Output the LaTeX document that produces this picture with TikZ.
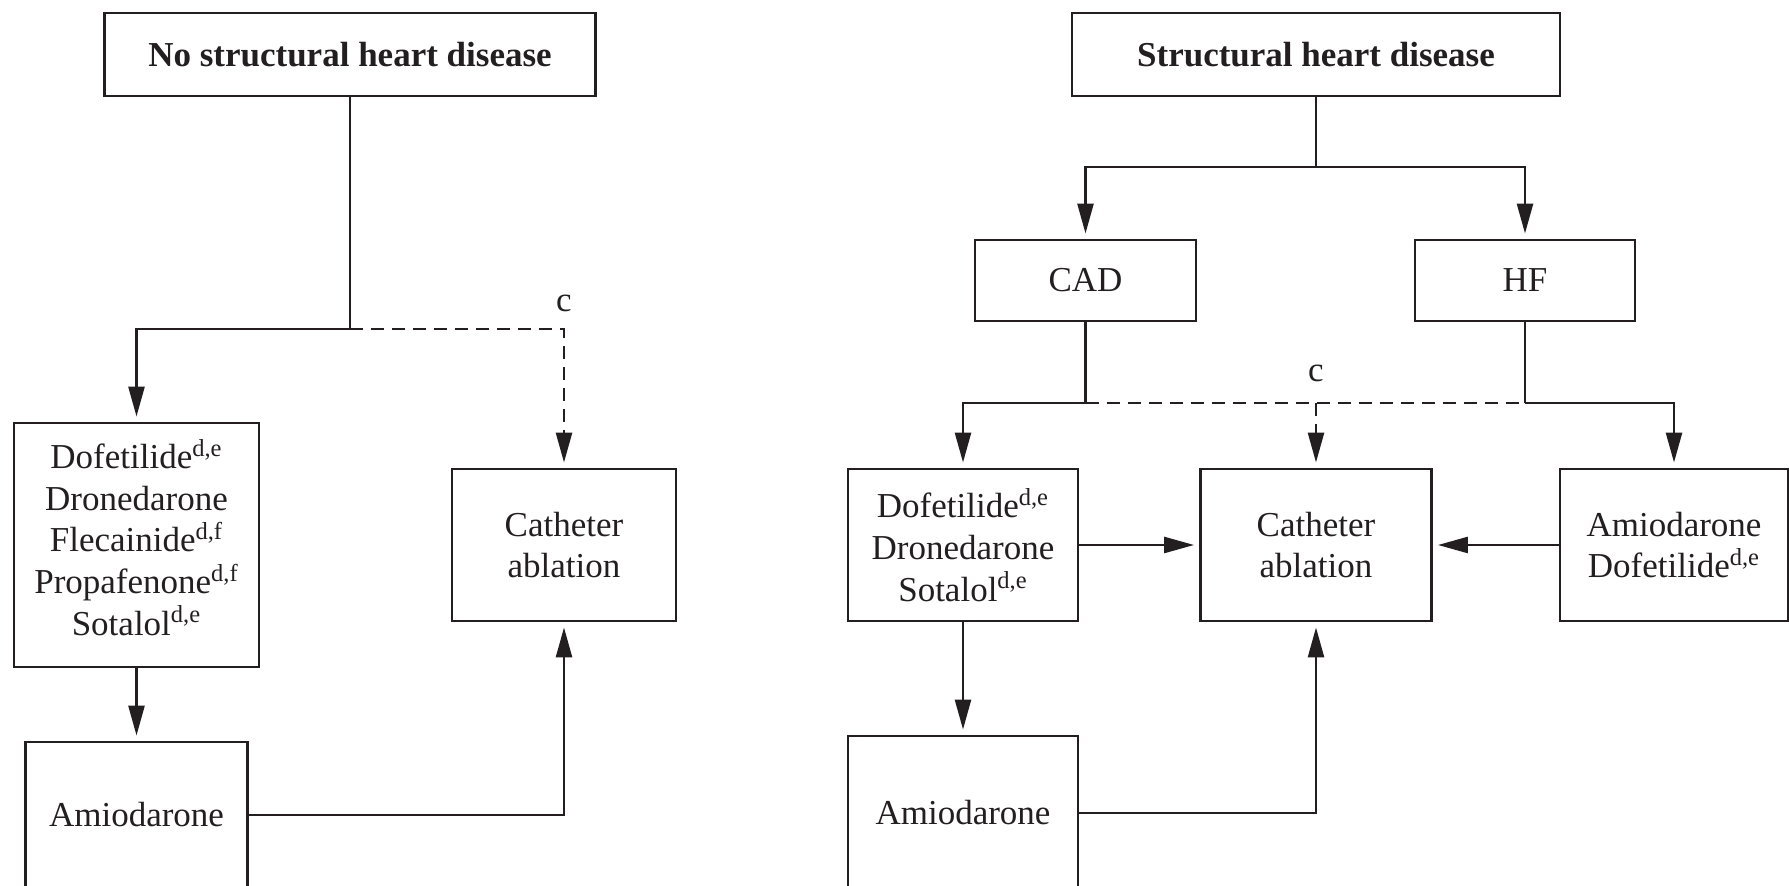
\documentclass[tikz,border=0pt]{standalone}
\usepackage{fontspec}
\setmainfont{Liberation Serif}
\usetikzlibrary{arrows.meta}
\definecolor{ink}{RGB}{35,31,32}
\tikzset{
  box/.style={draw=ink, line width=1.45pt, inner sep=0pt, align=center, text=ink,
              font=\fontsize{17.5}{20.8}\selectfont},
  link/.style={draw=ink, line width=1.3pt},
  arr/.style={link, -{Triangle[length=15pt,width=8pt]}, shorten >=2.5pt},
  dsh/.style={dash pattern=on 6.5pt off 4pt},
  note/.style={text=ink, font=\fontsize{17.5}{20.8}\selectfont, inner sep=0pt},
}
\begin{document}
\begin{tikzpicture}[x=0.5pt,y=-0.5pt]
\useasboundingbox (0,0) rectangle (1789,886);
\clip (0,0) rectangle (1789,886);

% ---------------- left chart: no structural heart disease ----------------
\node[box, minimum width=245.5pt, minimum height=41.5pt, font=\fontsize{17.5}{20.8}\selectfont\bfseries]
  (topL) at (350,54.5) {No structural heart disease};
\node[box, minimum width=122.5pt, minimum height=122pt] (drugL) at (136.5,545)
  {Dofetilide\textsuperscript{d,e}\\Dronedarone\\Flecainide\textsuperscript{d,f}\\Propafenone\textsuperscript{d,f}\\Sotalol\textsuperscript{d,e}\\[-13pt]};
\node[box, minimum width=111pt, minimum height=73pt] (amioL) at (136.5,815) {Amiodarone};
\node[box, minimum width=112pt, minimum height=76pt] (catL) at (564,545) {Catheter\\ablation};
\node[note] (cL) at (564,303) {c};
\coordinate (jL) at (350,329);

\draw[link] (topL.south) -- (jL);
\draw[arr] (jL) -| (drugL.north);
\draw[arr, dsh] (jL) -| (catL.north);
\draw[arr] (drugL.south) -- (amioL.north);
\draw[arr] (amioL.east) -| (catL.south);

% ---------------- right chart: structural heart disease ----------------
\node[box, minimum width=244pt, minimum height=41.5pt, font=\fontsize{17.5}{20.8}\selectfont\bfseries]
  (topR) at (1316,54.5) {Structural heart disease};
\node[box, minimum width=110.5pt, minimum height=40.5pt] (cad) at (1085.5,280.5) {CAD};
\node[box, minimum width=110pt, minimum height=40.5pt] (hf) at (1525,280.5) {HF};
\node[box, minimum width=115pt, minimum height=76pt] (drugR) at (963,545)
  {Dofetilide\textsuperscript{d,e}\\Dronedarone\\Sotalol\textsuperscript{d,e}};
\node[box, minimum width=115.5pt, minimum height=76pt] (catR) at (1316,545) {Catheter\\ablation};
\node[box, minimum width=114pt, minimum height=76pt] (amioHF) at (1674,545)
  {Amiodarone\\Dofetilide\textsuperscript{d,e}};
\node[box, minimum width=115pt, minimum height=77pt] (amioR) at (963,813) {Amiodarone};
\node[note] (cR) at (1316,373) {c};

\coordinate (sR) at (1316,167);
\coordinate (jC) at (1085.5,403);
\coordinate (jH) at (1525,403);
\coordinate (jM) at (1316,403);

\draw[link] (topR.south) -- (sR);
\draw[arr] (sR) -| (cad.north);
\draw[arr] (sR) -| (hf.north);
\draw[link] (cad.south) -- (jC);
\draw[link] (hf.south) -- (jH);
\draw[arr] (jC) -| (drugR.north);
\draw[arr] (jH) -| (amioHF.north);
\draw[link, dsh] (jC) -- (jH);
\draw[arr, dsh] (jM) -- (catR.north);
\draw[arr] (drugR.east) -- (catR.west);
\draw[arr] (amioHF.west) -- (catR.east);
\draw[arr] (drugR.south) -- (amioR.north);
\draw[arr] (amioR.east) -| (catR.south);
\end{tikzpicture}
\end{document}
